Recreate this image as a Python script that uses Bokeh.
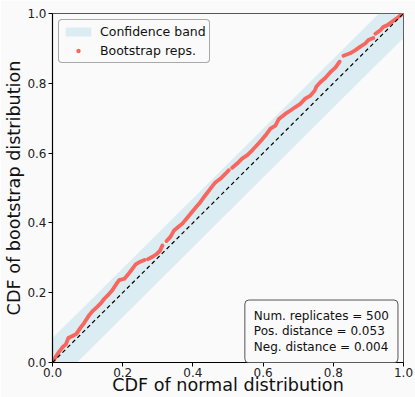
from bokeh.plotting import figure
from bokeh.models import (Range1d, FixedTicker, NumeralTickFormatter, Slope,
                          Legend, LegendItem, Label, ColumnDataSource)
from bokeh.embed import file_html
from bokeh.resources import INLINE

nan = float("nan")

# ---- data ----
tick_values = [0.0, 0.2, 0.4, 0.6, 0.8, 1.0]
band_halfwidth = 0.07
num_replicates = 500
pos_distance = 0.053
neg_distance = 0.004
x_label = "CDF of normal distribution"
y_label = "CDF of bootstrap distribution"

# CDF of normal distribution (x) vs CDF of bootstrap distribution (y); nan = visible gap
cdf_normal = [0.000, 0.010, 0.019, 0.030, 0.038, 0.045, 0.057, 0.068, 0.080, 0.090,
              0.104, 0.115, 0.128, 0.138, 0.147, 0.158, 0.171, 0.182, 0.190, 0.205,
              0.215, 0.225, 0.237, 0.250, 0.262, nan,
              0.272, 0.285, 0.297, 0.306, 0.313, nan,
              0.325, 0.336, 0.346, 0.358, 0.370, 0.384, 0.398, 0.410, 0.420, 0.430,
              0.440, 0.450, 0.464, 0.479, 0.493, 0.502, nan,
              0.512, 0.526, 0.540, 0.555, 0.569, 0.583, 0.597, 0.607, 0.621, 0.635,
              0.645, 0.664, 0.678, 0.692, 0.706, 0.720, 0.735, 0.747, 0.752, 0.763,
              0.777, 0.791, 0.806, 0.818, nan,
              0.829, 0.848, 0.863, 0.877, 0.891, 0.900, 0.914, nan,
              0.920, 0.934, 0.943, 0.953, 0.967, 0.981, 0.990, 1.000]
cdf_boot = [0.000, 0.018, 0.031, 0.045, 0.052, 0.070, 0.076, 0.082, 0.100, 0.113,
            0.135, 0.148, 0.160, 0.170, 0.182, 0.193, 0.208, 0.225, 0.236, 0.240,
            0.252, 0.265, 0.281, 0.289, 0.294, nan,
            0.296, 0.303, 0.311, 0.320, 0.335, nan,
            0.348, 0.360, 0.378, 0.388, 0.398, 0.415, 0.432, 0.446, 0.458, 0.472,
            0.485, 0.498, 0.516, 0.527, 0.541, 0.551, nan,
            0.558, 0.570, 0.584, 0.594, 0.608, 0.623, 0.639, 0.651, 0.670, 0.679,
            0.698, 0.713, 0.722, 0.732, 0.741, 0.756, 0.765, 0.779, 0.791, 0.803,
            0.815, 0.831, 0.845, 0.862, nan,
            0.879, 0.886, 0.895, 0.905, 0.914, 0.924, 0.930, nan,
            0.942, 0.952, 0.962, 0.966, 0.976, 0.986, 0.994, 1.000]

# ---- styling ----
FONT = "DejaVu Sans"
BG = "#fafafa"
RED = "#f8665e"

p = figure(width=415, height=397, x_range=Range1d(0, 1), y_range=Range1d(0, 1),
           output_backend="svg", toolbar_location=None,
           background_fill_color=BG, border_fill_color=BG,
           min_border_left=52, min_border_right=12, min_border_top=13,
           min_border_bottom=34)

# confidence band (clipped to the unit square)
e = band_halfwidth
band_src = ColumnDataSource(dict(x=[0.0, e, 1.0 - e, 1.0],
                                 lo=[0.0, 0.0, 1.0 - 2 * e, 1.0 - e],
                                 hi=[e, 2 * e, 1.0, 1.0]))
band_r = p.varea(x="x", y1="lo", y2="hi", source=band_src,
                 fill_color="#add8e6", fill_alpha=0.4)

src = ColumnDataSource(dict(x=cdf_normal, y=cdf_boot))
p.line(x="x", y="y", source=src, line_color=RED, line_width=3.8, line_cap="round",
       line_join="round")
pts_r = p.scatter(x="x", y="y", source=src, marker="circle", size=3,
                  fill_color=RED, line_color=None)

p.add_layout(Slope(gradient=1, y_intercept=0, line_color="black",
                   line_width=1.2, line_dash="4 3"))

for ax in (p.xaxis, p.yaxis):
    ax.ticker = FixedTicker(ticks=tick_values)
    ax.formatter = NumeralTickFormatter(format="0.0")
    ax.major_tick_out = 4
    ax.major_tick_in = 0
    ax.minor_tick_out = 0
    ax.minor_tick_in = 0
    ax.axis_line_color = "black"
    ax.axis_line_width = 1.2
    ax.major_tick_line_color = "black"
    ax.major_label_text_font = FONT
    ax.major_label_text_font_size = "12px"
    ax.major_label_text_color = "#222222"
    ax.axis_label_text_font = FONT
    ax.axis_label_text_font_size = "17.6px"
    ax.axis_label_text_font_style = "normal"
    ax.axis_label_text_color = "#111111"

p.xaxis.axis_label = x_label
p.yaxis.axis_label = y_label
p.xaxis.major_label_standoff = 1
p.xaxis.axis_label_standoff = -5
p.yaxis.major_label_standoff = 2
p.yaxis.axis_label_standoff = 0
p.xgrid.visible = False
p.ygrid.visible = False
p.outline_line_color = "#555555"
p.outline_line_width = 1

legend = Legend(items=[LegendItem(label="Confidence band", renderers=[band_r]),
                       LegendItem(label="Bootstrap reps.", renderers=[pts_r])],
                location="top_left", margin=6, padding=3, spacing=2,
                glyph_width=32, glyph_height=11, label_height=17, label_standoff=6,
                label_text_font=FONT, label_text_font_size="12.5px",
                label_text_color="#111111",
                border_line_color="#555555", border_line_width=1,
                background_fill_color=BG, background_fill_alpha=1.0)
if "border_radius" in Legend.properties():
    legend.border_radius = 4
p.add_layout(legend)

stats_text = (f"Num. replicates = {num_replicates}\n"
              f"Pos. distance = {pos_distance:.3f}\n"
              f"Neg. distance = {neg_distance:.3f}")
stats = Label(x=0.548, y=0.179, text=stats_text, text_align="left",
              text_baseline="top", text_font=FONT, text_font_size="12px",
              text_color="#111111", text_line_height=1.1,
              border_line_color="#555555", border_line_width=1,
              background_fill_color=BG, background_fill_alpha=1.0,
              padding=9, border_radius=4)
p.add_layout(stats)

open("out.html", "w").write(file_html(p, INLINE))
